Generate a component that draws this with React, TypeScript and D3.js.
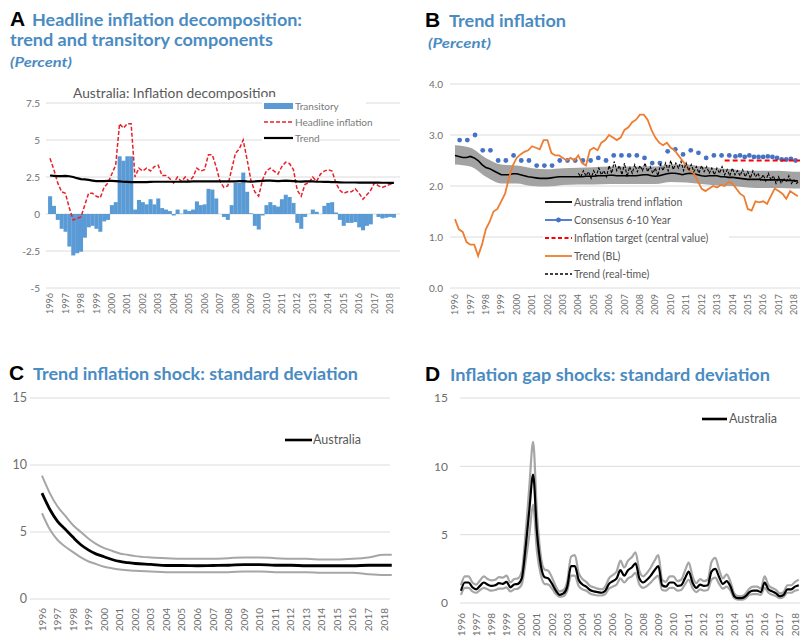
import * as React from "react";
import { scaleLinear, line, area, curveMonotoneX } from "d3";

// tick labels
const tickYears = ["1996", "1997", "1998", "1999", "2000", "2001", "2002", "2003", "2004", "2005", "2006", "2007", "2008", "2009", "2010", "2011", "2012", "2013", "2014", "2015", "2016", "2017", "2018"];
const ticksA = [-5, -2.5, 0, 2.5, 5, 7.5];
const ticksB = [0, 1, 2, 3, 4];
const ticksCD = [0, 5, 10, 15];

// A: quarterly 1996Q1 - 2018Q2
const transitory = [
  1.2, 0.55, -0.4, -1.0, -1.2, -2.2, -2.8, -2.65, -2.55, -1.6, -0.9, -0.8, -1.0, -1.2, -0.5, -0.4,
  0.6, 0.8, 3.9, 3.6, 3.9, 3.9, 0.3, 0.95, 0.8, 0.65, 1.0, 0.65, 1.05, 0.4, 0.3, 0.2,
  -0.1, 0.3, 0.02, 0.3, 0.2, 0.3, 0.85, 0.6, 0.65, 1.7, 1.65, 1.05, 0.0, -0.2, -0.4, 0.6,
  2.1, 2.1, 2.8, 1.5, 0.05, -0.8, -1.05, -0.1, 0.6, 0.8, 0.6, 0.5, 1.0, 1.3, 1.15, 0.75,
  -0.6, -1.0, -0.2, 0.0, 0.3, 0.15, 0.0, 0.55, 0.75, 0.8, 0.1, -0.4, -0.8, -0.6, -0.6, -0.55,
  -0.9, -1.1, -0.8, -0.7, 0.0, -0.2, -0.3, -0.25, -0.2, -0.25,
];
const headline = [
  3.76, 3.0, 2.1, 1.5, 1.4, 0.4, -0.4, -0.3, -0.2, 0.6, 1.4, 1.4, 1.2, 1.1, 1.8, 2.1,
  2.7, 3.3, 6.1, 5.8, 6.1, 6.1, 2.5, 3.1, 2.9, 3.1, 2.9, 3.2, 3.3, 2.6, 2.6, 2.4,
  2.1, 2.5, 2.2, 2.5, 2.2, 2.5, 3.1, 2.9, 3.0, 4.0, 4.0, 3.2, 2.2, 1.8, 1.9, 3.0,
  4.1, 4.4, 5.0, 3.7, 2.3, 1.5, 1.2, 2.3, 2.9, 3.1, 2.9, 2.7, 3.2, 3.5, 3.4, 3.0,
  1.6, 1.2, 2.0, 2.1, 2.5, 2.2, 2.7, 2.9, 3.0, 2.9, 2.1, 1.6, 1.4, 1.5, 1.5, 1.7,
  1.4, 1.0, 1.3, 1.6, 2.1, 1.9, 1.8, 1.9, 2.0, 2.1,
];
const trend = [
  2.6, 2.58, 2.56, 2.56, 2.58, 2.55, 2.5, 2.42, 2.36, 2.34, 2.3, 2.26, 2.22, 2.22, 2.22, 2.24,
  2.24, 2.22, 2.2, 2.18, 2.17, 2.16, 2.15, 2.15, 2.15, 2.16, 2.17, 2.18, 2.18, 2.18, 2.18, 2.18,
  2.18, 2.18, 2.19, 2.19, 2.19, 2.2, 2.2, 2.2, 2.21, 2.21, 2.2, 2.2, 2.2, 2.2, 2.2, 2.2,
  2.21, 2.22, 2.22, 2.2, 2.19, 2.2, 2.22, 2.24, 2.25, 2.25, 2.24, 2.22, 2.24, 2.25, 2.24, 2.22,
  2.2, 2.19, 2.2, 2.2, 2.2, 2.18, 2.18, 2.17, 2.17, 2.16, 2.15, 2.14, 2.13, 2.13, 2.13, 2.13,
  2.12, 2.12, 2.12, 2.12, 2.12, 2.12, 2.11, 2.11, 2.1, 2.1,
];

// B
const bandYears = [1996, 1997, 1998, 1999, 2000, 2001, 2002, 2003, 2004, 2005, 2006, 2007, 2008, 2009, 2010, 2011, 2012, 2013, 2014, 2015, 2016, 2017, 2018, 2018.5];
const bandUpper = [2.8, 2.75, 2.55, 2.42, 2.4, 2.35, 2.33, 2.35, 2.36, 2.37, 2.38, 2.38, 2.38, 2.38, 2.42, 2.42, 2.38, 2.35, 2.33, 2.3, 2.3, 2.3, 2.28, 2.28];
const bandLower = [2.42, 2.38, 2.18, 2.05, 2.05, 2.0, 1.99, 2.02, 2.03, 2.03, 2.04, 2.04, 2.04, 2.04, 2.08, 2.07, 2.04, 2.01, 2.0, 1.97, 1.96, 1.96, 1.95, 1.95];
const consensusSemi = [
  2.9, 2.9, 3.0, 2.7, 2.7, 2.5, 2.5, 2.6, 2.5, 2.5, 2.4, 2.4, 2.4, 2.5, 2.5, 2.5, 2.5, 2.5,
  2.55, 2.5, 2.6, 2.6, 2.6, 2.6, 2.55, 2.45, 2.45, 2.68, 2.72, 2.62, 2.7, 2.65, 2.55, 2.6, 2.6, 2.6,
];
const consensusDense = [2.58, 2.6, 2.57, 2.6, 2.57, 2.57, 2.57, 2.58, 2.57, 2.55, 2.52, 2.52, 2.53, 2.5];
const targetYears = [2013.5, 2018.5];
const targetValues = [2.5, 2.5];
const trendBL = [
  1.35, 1.15, 1.1, 0.9, 0.85, 0.85, 0.63, 0.85, 1.15, 1.3, 1.5, 1.55, 1.7, 1.85, 2.15,
  2.4, 2.55, 2.62, 2.67, 2.7, 2.78, 2.75, 2.72, 2.9, 2.9, 2.65, 2.6, 2.6, 2.55, 2.5,
  2.55, 2.5, 2.6, 2.45, 2.4, 2.7, 2.75, 2.7, 2.85, 2.9, 3.0, 2.95, 2.9, 2.95, 3.1,
  3.15, 3.25, 3.3, 3.4, 3.4, 3.3, 3.1, 2.95, 2.85, 2.8, 2.85, 2.75, 2.7, 2.6, 2.5,
  2.4, 2.3, 2.25, 2.1, 1.95, 1.9, 1.95, 2.0, 1.97, 2.02, 2.0, 2.08, 2.05, 1.95, 1.85,
  1.8, 1.55, 1.52, 1.7, 1.68, 1.7, 1.65, 1.8, 1.95, 1.9, 1.85, 1.75, 1.9, 1.85, 1.8,
];
const trendRealTime = [
  2.25, 2.18, 2.3, 2.2, 2.28, 2.15, 2.3, 2.2, 2.35, 2.22, 2.3, 2.18,
  2.4, 2.25, 2.48, 2.3, 2.4, 2.22, 2.45, 2.18, 2.38, 2.25, 2.42, 2.28,
  2.4, 2.3, 2.45, 2.28, 2.38, 2.25, 2.35, 2.2, 2.42, 2.3, 2.45, 2.3,
  2.5, 2.32, 2.45, 2.35, 2.48, 2.3, 2.45, 2.3, 2.42, 2.28, 2.38, 2.25,
  2.4, 2.28, 2.38, 2.25, 2.35, 2.22, 2.35, 2.25, 2.38, 2.22, 2.32, 2.2,
  2.35, 2.22, 2.3, 2.2, 2.32, 2.18, 2.28, 2.15, 2.3, 2.18, 2.25, 2.12,
  2.22, 2.1, 2.25, 2.12, 2.2, 2.05, 2.18, 2.05, 2.15, 2.08, 2.2, 2.05,
  2.12, 2.05, 2.1,
];

// C
const cYears = [1996, 1996.5, 1997, 1997.5, 1998, 1998.5, 1999, 1999.5, 2000, 2000.5, 2001, 2001.5, 2002, 2003, 2004, 2005, 2006, 2007, 2008, 2009, 2010, 2011, 2012, 2013, 2014, 2015, 2016, 2017, 2018, 2018.5];
const cCentral = [7.9, 6.7, 5.8, 5.2, 4.6, 4.05, 3.65, 3.35, 3.15, 2.95, 2.8, 2.72, 2.65, 2.58, 2.5, 2.5, 2.48, 2.5, 2.52, 2.57, 2.57, 2.52, 2.52, 2.48, 2.48, 2.48, 2.48, 2.52, 2.52, 2.52];
const cUpper = [9.2, 7.9, 6.9, 6.2, 5.5, 5.0, 4.5, 4.1, 3.8, 3.6, 3.4, 3.3, 3.2, 3.1, 3.05, 3.0, 3.0, 3.0, 3.05, 3.1, 3.1, 3.05, 3.0, 3.0, 2.95, 2.95, 3.0, 3.1, 3.3, 3.3];
const cLower = [6.4, 5.2, 4.4, 3.9, 3.5, 3.1, 2.8, 2.6, 2.4, 2.3, 2.2, 2.15, 2.1, 2.05, 2.0, 2.0, 2.0, 2.0, 2.0, 2.05, 2.05, 2.0, 2.0, 2.0, 1.95, 1.95, 1.95, 1.85, 1.8, 1.8];

// D: quarterly
const dCentral = [
  0.9, 1.5, 1.5, 1.15, 1.0, 1.25, 1.5, 1.35, 1.25, 1.3, 1.45, 1.4, 1.55, 1.15, 1.35, 1.4, 1.8, 4.0, 6.8, 9.4,
  5.2, 2.8, 1.9, 1.8, 1.4, 0.9, 0.6, 0.7, 1.2, 2.7, 2.7, 1.7, 1.35, 1.2, 0.95, 0.85, 0.8, 0.75, 0.9, 1.4,
  1.6, 1.8, 2.4, 2.0, 2.4, 2.6, 2.9, 1.8, 1.5, 1.7, 2.0, 2.4, 2.7, 1.3, 1.2, 1.5, 1.5, 1.25, 1.3, 1.8,
  2.3, 1.5, 1.1, 1.35, 1.25, 1.3, 2.3, 2.5, 1.9, 1.4, 1.6, 1.2, 0.5, 0.35, 0.35, 0.5, 0.8, 0.9, 0.9, 0.8,
  1.5, 1.0, 0.85, 0.7, 0.5, 0.6, 1.0, 1.0, 1.2, 1.3,
];
const dUpper = [
  1.3, 1.95, 1.95, 1.5, 1.35, 1.65, 1.95, 1.75, 1.65, 1.7, 1.9, 1.85, 2.0, 1.5, 1.75, 1.8, 2.3, 5.0, 8.5, 11.8,
  6.6, 3.5, 2.45, 2.35, 1.85, 1.2, 0.85, 0.95, 1.6, 3.4, 3.5, 2.2, 1.75, 1.55, 1.25, 1.15, 1.05, 1.0, 1.2, 1.8,
  2.05, 2.3, 3.1, 2.6, 3.1, 3.35, 3.7, 2.35, 1.95, 2.2, 2.6, 3.1, 3.5, 1.7, 1.55, 1.95, 1.95, 1.6, 1.7, 2.35,
  2.95, 1.95, 1.45, 1.75, 1.6, 1.7, 3.0, 3.3, 2.45, 1.8, 2.1, 1.55, 0.7, 0.5, 0.5, 0.7, 1.05, 1.2, 1.2, 1.05,
  1.95, 1.3, 1.1, 0.95, 0.7, 0.8, 1.3, 1.3, 1.55, 1.7,
];
const dLower = [
  0.6, 1.1, 1.1, 0.85, 0.75, 0.95, 1.1, 1.0, 0.9, 0.95, 1.05, 1.05, 1.15, 0.85, 1.0, 1.05, 1.35, 3.0, 5.0, 7.2,
  3.8, 2.1, 1.4, 1.35, 1.05, 0.65, 0.45, 0.5, 0.9, 2.0, 2.0, 1.25, 1.0, 0.9, 0.7, 0.6, 0.55, 0.55, 0.65, 1.05,
  1.2, 1.35, 1.8, 1.5, 1.8, 1.95, 2.2, 1.35, 1.1, 1.25, 1.5, 1.8, 2.0, 0.95, 0.9, 1.1, 1.1, 0.9, 0.95, 1.35,
  1.7, 1.1, 0.8, 1.0, 0.9, 0.95, 1.7, 1.85, 1.4, 1.05, 1.2, 0.9, 0.35, 0.25, 0.25, 0.35, 0.6, 0.65, 0.65, 0.6,
  1.1, 0.75, 0.6, 0.5, 0.35, 0.45, 0.75, 0.75, 0.9, 0.95,
];

const FONT = "Lato, 'Liberation Sans', sans-serif";
const TITLE_BLUE = "#4a8bc2";
const GRID = "#dcdcdc";
const TICK = "#6e6e6e";
const GREY = "#a6a6a6";

const qYear = (i: number) => 1996 + i / 4;

const Header = (props: { letter: string; x: number; y: number; lines: { text: string; x: number; y: number; len: number; italic?: boolean; size?: number }[] }) => {
  const { letter, x, y, lines } = props;
  return (
    <g>
      <text x={x} y={y} fontFamily="'Liberation Sans', Arial, sans-serif" fontWeight="bold" fontSize={21} fill="#000">{letter}</text>
      {lines.map((l) => (
        <text key={l.text + l.y} x={l.x} y={l.y} fontFamily={FONT} fontWeight="bold" fontStyle={l.italic ? "italic" : "normal"}
          fontSize={l.size || 17} fill={TITLE_BLUE} textLength={l.len} lengthAdjust="spacingAndGlyphs">{l.text}</text>
      ))}
    </g>
  );
};

const YearLabels = (props: { xs: (v: number) => number; y: number; size: number }) => (
  <g>
    {tickYears.map((yr) => (
      <text key={yr} transform={`translate(${props.xs(+yr)},${props.y}) rotate(-90)`} textAnchor="end" dy="0.35em"
        fontFamily={FONT} fontSize={props.size} fill={TICK}>{yr}</text>
    ))}
  </g>
);

const Grid = (props: { ys: (v: number) => number; ticks: number[]; labels: string[]; x1: number; x2: number; lx: number; size: number }) => (
  <g>
    {props.ticks.map((t, k) => (
      <g key={t}>
        <line x1={props.x1} x2={props.x2} y1={props.ys(t)} y2={props.ys(t)} stroke={GRID} strokeWidth={1} />
        <text x={props.lx} y={props.ys(t)} dy="0.35em" textAnchor="end" fontFamily={FONT} fontSize={props.size} fill={TICK}>{props.labels[k]}</text>
      </g>
    ))}
  </g>
);

const PanelA = () => {
  const xs = scaleLinear().domain([1996, 2018]).range([50, 390]);
  const ys = scaleLinear().domain([-5, 7.5]).range([288, 103]);
  const bw = xs(1996.25) - xs(1996);
  const ln = line<number>().x((d, i) => xs(qYear(i))).y((d) => ys(d));
  return (
    <g>
      <Header letter="A" x={10} y={26} lines={[
        { text: "Headline inflation decomposition:", x: 32, y: 26, len: 270 },
        { text: "trend and transitory components", x: 10, y: 46, len: 263 },
        { text: "(Percent)", x: 10, y: 67, len: 62, italic: true, size: 14 },
      ]} />
      <Grid ys={ys} ticks={ticksA} labels={["-5", "-2.5", "0", "2.5", "5", "7.5"]} x1={46} x2={400} lx={40} size={10} />
      <rect x={70} y={86} width={208} height={15} fill="#fff" />
      <text x={73} y={98} fontFamily={FONT} fontSize={14} fill="#595959" textLength={203} lengthAdjust="spacingAndGlyphs">Australia: Inflation decomposition</text>
      {transitory.map((v, i) => (
        <rect key={i} x={xs(qYear(i)) - bw / 2} width={bw + 0.2} y={Math.min(ys(v), ys(0))} height={Math.abs(ys(v) - ys(0))} fill="#5b9bd5" />
      ))}
      <path d={ln(headline) || ""} fill="none" stroke="#e8202a" strokeWidth={1.5} strokeDasharray="4,2" />
      <path d={ln(trend) || ""} fill="none" stroke="#000" strokeWidth={2.2} />
      <YearLabels xs={xs} y={293} size={9} />
      {/* legend */}
      <rect x={262} y={97} width={104} height={15} fill="#fff" />
      <rect x={262} y={131} width={56} height={14} fill="#fff" />
      <rect x={264} y={103} width={29} height={6} fill="#5b9bd5" />
      <text x={295} y={106} dy="0.35em" fontFamily={FONT} fontSize={10} fill="#7a7a7a">Transitory</text>
      <line x1={264} x2={293} y1={122} y2={122} stroke="#e8202a" strokeWidth={1.5} strokeDasharray="4,2" />
      <text x={295} y={122} dy="0.35em" fontFamily={FONT} fontSize={10} fill="#7a7a7a">Headline inflation</text>
      <line x1={264} x2={293} y1={138} y2={138} stroke="#000" strokeWidth={2.2} />
      <text x={295} y={138} dy="0.35em" fontFamily={FONT} fontSize={10} fill="#7a7a7a">Trend</text>
    </g>
  );
};

const PanelB = () => {
  const xs = scaleLinear().domain([1996, 2018]).range([455, 794]);
  const ys = scaleLinear().domain([0, 4]).range([288, 84]);
  const qLine = line<number>().x((d, i) => xs(qYear(i))).y((d) => ys(d));
  const band = area<number>().x((d, i) => xs(bandYears[i])).y0((d, i) => ys(bandLower[i])).y1((d) => ys(d)).curve(curveMonotoneX);
  const rtLine = line<number>().x((d, i) => xs(2004 + i / 6)).y((d) => ys(d));
  const tgtLine = line<number>().x((d, i) => xs(targetYears[i])).y((d) => ys(d));
  const legend = [
    { label: "Australia trend inflation", color: "#000", dash: "", dot: false, w: 1.8 },
    { label: "Consensus 6-10 Year", color: "#4472c4", dash: "", dot: true, w: 1.8 },
    { label: "Inflation target (central value)", color: "#ff0000", dash: "4,2.5", dot: false, w: 2 },
    { label: "Trend (BL)", color: "#ed7d31", dash: "", dot: false, w: 1.8 },
    { label: "Trend (real-time)", color: "#000", dash: "3,2", dot: false, w: 1.5 },
  ];
  return (
    <g>
      <Header letter="B" x={425} y={27} lines={[
        { text: "Trend inflation", x: 449, y: 27, len: 117 },
        { text: "(Percent)", x: 428, y: 48, len: 63, italic: true, size: 14 },
      ]} />
      <Grid ys={ys} ticks={ticksB} labels={["0.0", "1.0", "2.0", "3.0", "4.0"]} x1={450} x2={800} lx={443} size={10} />
      <path d={band(bandUpper) || ""} fill="#a3a3a3" />
      <path d={qLine(trend) || ""} fill="none" stroke="#000" strokeWidth={1.6} />
      {consensusSemi.map((v, i) => (
        <circle key={"s" + i} cx={xs(1996.3 + i * 0.5)} cy={ys(v)} r={2.4} fill="#4472c4" />
      ))}
      {consensusDense.map((v, i) => (
        <circle key={"d" + i} cx={xs(2014.2 + i * 0.3)} cy={ys(v)} r={2.4} fill="#4472c4" />
      ))}
      <path d={tgtLine(targetValues) || ""} fill="none" stroke="#ff0000" strokeWidth={2} strokeDasharray="5,3" />
      <path d={qLine(trendBL) || ""} fill="none" stroke="#ed7d31" strokeWidth={1.8} />
      <path d={rtLine(trendRealTime) || ""} fill="none" stroke="#000" strokeWidth={1.1} strokeDasharray="3,1.5" />
      <YearLabels xs={xs} y={294} size={9} />
      <rect x={543} y={194} width={186} height={88} fill="#fff" />
      {legend.map((l, k) => {
        const y = 202 + k * 18;
        return (
          <g key={l.label}>
            <line x1={545} x2={572} y1={y} y2={y} stroke={l.color} strokeWidth={l.w} strokeDasharray={l.dash || undefined} />
            {l.dot && <circle cx={558.5} cy={y} r={2.4} fill={l.color} />}
            <text x={574} y={y} dy="0.35em" fontFamily={FONT} fontSize={10.5} fill="#595959">{l.label}</text>
          </g>
        );
      })}
    </g>
  );
};

const PanelC = () => {
  const xs = scaleLinear().domain([1996, 2018]).range([42, 384]);
  const ys = scaleLinear().domain([0, 15]).range([599, 398]);
  const ln = line<number>().x((d, i) => xs(cYears[i])).y((d) => ys(d)).curve(curveMonotoneX);
  return (
    <g>
      <Header letter="C" x={9} y={380} lines={[
        { text: "Trend inflation shock: standard deviation", x: 33, y: 380, len: 325 },
      ]} />
      <Grid ys={ys} ticks={ticksCD} labels={["0", "5", "10", "15"]} x1={30} x2={390} lx={27} size={12.5} />
      <path d={ln(cUpper) || ""} fill="none" stroke={GREY} strokeWidth={2} />
      <path d={ln(cLower) || ""} fill="none" stroke={GREY} strokeWidth={2} />
      <path d={ln(cCentral) || ""} fill="none" stroke="#000" strokeWidth={2.8} />
      <YearLabels xs={xs} y={608} size={10} />
      <line x1={285} x2={312} y1={440} y2={440} stroke="#000" strokeWidth={2.6} />
      <text x={313} y={440} dy="0.35em" fontFamily={FONT} fontSize={12.5} fill="#595959">Australia</text>
    </g>
  );
};

const PanelD = () => {
  const xs = scaleLinear().domain([1996, 2018]).range([461, 795]);
  const ys = scaleLinear().domain([0, 15]).range([603, 398]);
  const ln = line<number>().x((d, i) => xs(qYear(i))).y((d) => ys(d)).curve(curveMonotoneX);
  return (
    <g>
      <Header letter="D" x={425} y={381} lines={[
        { text: "Inflation gap shocks: standard deviation", x: 450, y: 381, len: 320 },
      ]} />
      <Grid ys={ys} ticks={ticksCD} labels={["0", "5", "10", "15"]} x1={460} x2={800} lx={448} size={12} />
      <path d={ln(dUpper) || ""} fill="none" stroke={GREY} strokeWidth={2.2} />
      <path d={ln(dLower) || ""} fill="none" stroke={GREY} strokeWidth={2.2} />
      <path d={ln(dCentral) || ""} fill="none" stroke="#000" strokeWidth={2.2} />
      <YearLabels xs={xs} y={613} size={10} />
      <line x1={702} x2={727} y1={419} y2={419} stroke="#000" strokeWidth={2.6} />
      <text x={729} y={419} dy="0.35em" fontFamily={FONT} fontSize={12.5} fill="#595959">Australia</text>
    </g>
  );
};

export default function App() {
  return (
    <svg width={800} height={640} style={{ position: "absolute", left: 0, top: 0, background: "#fff", display: "block" }}>
      <rect width={800} height={640} fill="#fff" />
      <PanelA />
      <PanelB />
      <PanelC />
      <PanelD />
    </svg>
  );
}
